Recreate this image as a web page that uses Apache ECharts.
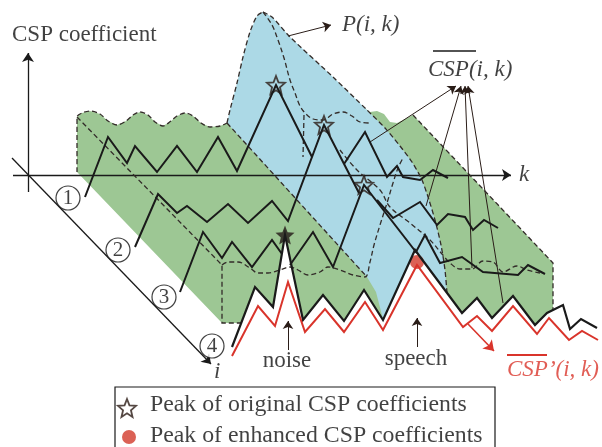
<!DOCTYPE html>
<html><head><meta charset="utf-8">
<script src="https://cdn.jsdelivr.net/npm/echarts@6/dist/echarts.min.js"></script>
<style>html,body{margin:0;padding:0;background:#fff}#c{width:602px;height:447px}</style>
</head><body><div id="c"></div>
<script>
// ===== diagram data (chart units: x along k, y measured downward) =====
const greenWave = [[77,172],[77,117],[82,113],[90,111],[100,114],[108,121],[117,125],[126,121],[133,115],[140,112],[148,115],[155,122],[163,126],[171,121],[177,116],[185,113],[193,116],[201,123],[210,127],[220,126],[227,123]];
const greenHidden = [[300,60]];
const greenRightTop = [[370,112],[377,111],[384,114],[390,122],[397,123],[405,119],[413,115]];
const greenLower = [[553,263],[553,310],[547,313],[535,325],[513,296],[492,318],[477,298],[462,313],[415,250],[383,320],[364,290],[344,321],[323,295],[303,320],[285,235],[273,307],[255,287],[241,323],[222,323]];
const blueLeftEdge = [[227,123],[230,110],[237,83],[243,57],[250,32],[257,16],[263,12]];
const blueRightEdge = [[263,12],[272,17],[290,37],[333,77],[367,110],[385,128],[400,146],[412,162],[422,180],[429,200],[435,220],[441,245],[445,270],[447,293]];
const blueBottom = [[227,123],[367,277],[376,292],[383,319],[415,250],[447,293]];

const dashBlueDiag = [[227,123],[367,277]];
const dashGreenRight = [[413,115],[553,263],[553,310]];
const dashInnerDiag = [[77,117],[222,265],[222,323],[241,323]];
const dashWave3 = [[222,265],[228,262],[238,262],[250,268],[258,273],[268,273],[280,270],[290,267],[298,270],[308,275],[320,272],[328,267],[340,270],[353,275],[365,277],[370,262],[374,245],[380,225],[387,203],[393,183],[398,168],[403,158]];
const dashRidge = [[263,12],[272,25],[278,40],[284,58],[290,80],[295,93],[300,106],[306,114],[313,119],[323,120],[333,114],[343,112],[352,116],[360,122],[370,123]];
const dashDrop = [[304,115],[303,157]];
const dashTail = [[340,150],[357,170],[380,190],[390,207],[410,223],[430,240],[442,254],[450,263],[460,269],[472,269],[483,261],[493,262],[503,272],[517,266],[527,270],[540,273]];

// CSP coefficient rows (null = hidden behind a nearer row)
const row1 = [[85,197],[108,137],[127,163],[135,146],[157,172],[177,146],[197,172],[218,137],[237,171],[276,85],[312,157],null,[344,164],[365,132],[387,177],[397,166],[403,177],[420,180],[433,170],[448,178]];
const row2 = [[135,247],[158,194],[177,213],[187,206],[207,222],[228,204],[248,223],[272,201],[288,221],[324,125],[359,193],null,[377,200],[393,218],[420,202],[437,225],[448,214],[465,217],[473,230],[484,220],[498,228]];
const row3 = [[180,292],[203,232],[222,258],[232,242],[252,267],[272,240],[282,254],null,[290,265],[292,267],[313,232],[333,267],[364,185],[416,252],[425,235],[440,263],[462,257],[483,272],[518,275],[528,265],[545,274]];
const row4 = [[232,347],[255,287],[273,307],[285,235],[303,320],[323,295],[344,321],[364,290],[383,320],[415,250],[462,313],[477,298],[492,318],[513,296],[535,325],[547,313],[563,305],[570,329],[581,319],[597,328]];
const row4Enhanced = [[232,356],[258,306],[275,326],[288,282],[305,332],[325,309],[344,332],[365,302],[383,330],[417,265],[463,327],[477,316],[492,331],[513,306],[537,334],[549,318],[569,340],[582,331],[598,340]];

const originalPeaks = [[276,85],[324,125],[364,185]];
const noisePeak = [[285,235]];
const enhancedPeak = [[417,262]];

const axisArrows = [[[28,192],[28,53]],[[13,175],[511,175]],[[12,158],[211,364]]];
const pointerArrows = [[[288,36],[331,25]],[[370,142],[456,86]],[[426,206],[461,86]],[[472,268],[465,86]],[[503,303],[468,86]],[[288,350],[288,321]],[[417,347],[417,318]]];
const redArrow = [[[468,324],[494,351]]];
const overlineBlack = [[433,51],[476,51]];
const overlineRed = [[507,355],[547,355]];
const legendBox = [[115,452],[115,387],[495,387],[495,452]];
const legendMarks = {star:[127,408], dot:[129,437]};

const rowLabels = ['1','2','3','4'];
const rowLabelPos = [[68,198],[118,250],[164,297],[212,346]];

const labels = [
  {text:'CSP coefficient', at:[12,35], align:'left', italic:false, color:'#111', size:23},
  {text:'P(i, k)', at:[342,25], align:'left', italic:true, color:'#111', size:23},
  {text:'CSP(i, k)', at:[428,70], align:'left', italic:true, color:'#111', size:23},
  {text:'CSP\u2019(i, k)', at:[507,370], align:'left', italic:true, color:'#d9342b', size:23},
  {text:'k', at:[519,175], align:'left', italic:true, color:'#111', size:23},
  {text:'i', at:[214,372], align:'left', italic:true, color:'#111', size:23},
  {text:'noise', at:[287,361], align:'center', italic:false, color:'#111', size:23},
  {text:'speech', at:[416,359], align:'center', italic:false, color:'#111', size:23},
  {text:'Peak of original CSP coefficients', at:[150,405], align:'left', italic:false, color:'#111', size:23.8},
  {text:'Peak of enhanced CSP coefficients', at:[150,436], align:'left', italic:false, color:'#111', size:23.8}
];

// ===== rendering =====
const FONT = "'Liberation Serif','Times New Roman',serif";
const INK = '#1a1a1a';
const DASH = '#332c29';
const GREEN = '#9dc794';
const BLUE = '#acd9e6';
const RED = '#d9342b';
const STAR = 'path://M12,1 L15.1,8.6 L23.4,9.2 L17,14.5 L19,22.6 L12,18.2 L5,22.6 L7,14.5 L0.6,9.2 L8.9,8.6 Z';

function segments(pts){const out=[];let cur=[];pts.forEach(p=>{if(p===null){if(cur.length)out.push(cur);cur=[];}else cur.push(p);});if(cur.length)out.push(cur);return out;}
function poly(points, fill){
  return {type:'custom', silent:true, data:[0], clip:false,
    renderItem:(params, api)=>({type:'polygon', shape:{points:points.map(p=>api.coord(p))}, style:{fill:fill, stroke:null}})};
}
function line(points, color, width, type, smooth){
  return {type:'line', data:points, showSymbol:false, symbol:'none', smooth:smooth||0, silent:true, animation:false,
    lineStyle:{color:color, width:width, type:type||'solid', join:'miter', miterLimit:8}};
}
function arrows(list, color, width, size){
  return {type:'lines', coordinateSystem:'cartesian2d', silent:true, animation:false,
    data:list.map(c=>({coords:c})), symbol:['none','arrow'], symbolSize:size,
    lineStyle:{color:color, width:width, opacity:1, curveness:0}};
}
function plain(list, color, width, polyline){
  return {type:'lines', coordinateSystem:'cartesian2d', silent:true, polyline:!!polyline, animation:false,
    data:list.map(c=>({coords:c})), symbol:['none','none'],
    lineStyle:{color:color, width:width, opacity:1}};
}

const series = [];
const greenBand = [].concat(greenWave, greenHidden, greenRightTop, greenLower);
const blueRidge = [].concat(blueLeftEdge.slice(0,-1), blueRightEdge.slice(0,-1), blueBottom.slice().reverse().slice(0,-1));
series.push(poly(greenBand, GREEN));
series.push(poly(blueRidge, BLUE));
const dashStyle = [5,3];
[[greenWave,0.3],[blueLeftEdge,0.3],[blueRightEdge,0.25],[dashBlueDiag,0],[dashGreenRight,0],[dashInnerDiag,0],[dashWave3,0.35],[dashRidge,0.35],[dashDrop,0],[dashTail,0.35]]
  .forEach(([d,s])=>series.push(line(d, DASH, 1.3, dashStyle, s)));
series.push(arrows(axisArrows, INK, 1.3, 9));
[row1,row2,row3].forEach(r=>segments(r).forEach(seg=>series.push(line(seg, INK, 2, 'solid', 0))));
series.push(line(row4, INK, 2.2, 'solid', 0));
series.push(line(row4Enhanced, RED, 2, 'solid', 0));
series.push(arrows(pointerArrows, '#2a1d18', 1, 8));
series.push(arrows(redArrow, RED, 1.6, 10));
series.push(plain([overlineBlack], INK, 1.5));
series.push(plain([overlineRed], RED, 2));
series.push(plain([legendBox], INK, 1.2, true));

series.push({type:'scatter', silent:true, data:originalPeaks.concat([legendMarks.star]), symbol:STAR, symbolSize:18,
  itemStyle:{color:'rgba(0,0,0,0)', borderColor:'#2a1a14', borderWidth:1.8}});
series.push({type:'scatter', silent:true, data:noisePeak, symbol:STAR, symbolSize:19, itemStyle:{color:'#231815'}});
series.push({type:'scatter', silent:true, data:enhancedPeak.concat([legendMarks.dot]), symbol:'circle', symbolSize:14, itemStyle:{color:'#d23a2b'}});
series.push({type:'scatter', silent:true, data:rowLabelPos.map((p,i)=>({value:p, name:rowLabels[i]})), symbol:'circle', symbolSize:24,
  itemStyle:{color:'#fff', borderColor:'#111', borderWidth:1.2},
  label:{show:true, position:'inside', formatter:p=>p.name, color:'#111', fontSize:21, fontFamily:FONT}});
labels.forEach(l=>series.push({type:'scatter', silent:true, data:[l.at], symbolSize:0,
  label:{show:true, position:[0,0], align:l.align, verticalAlign:'middle', formatter:l.text, color:l.color,
    fontSize:l.size, fontFamily:FONT, fontStyle:l.italic?'italic':'normal'}}));

const chart = echarts.init(document.getElementById('c'));
chart.setOption({
  animation:false,
  grid:{left:0,right:0,top:0,bottom:0,containLabel:false},
  xAxis:{type:'value', min:0, max:602, show:false},
  yAxis:{type:'value', min:0, max:447, inverse:true, show:false},
  series:series
});
</script></body></html>
